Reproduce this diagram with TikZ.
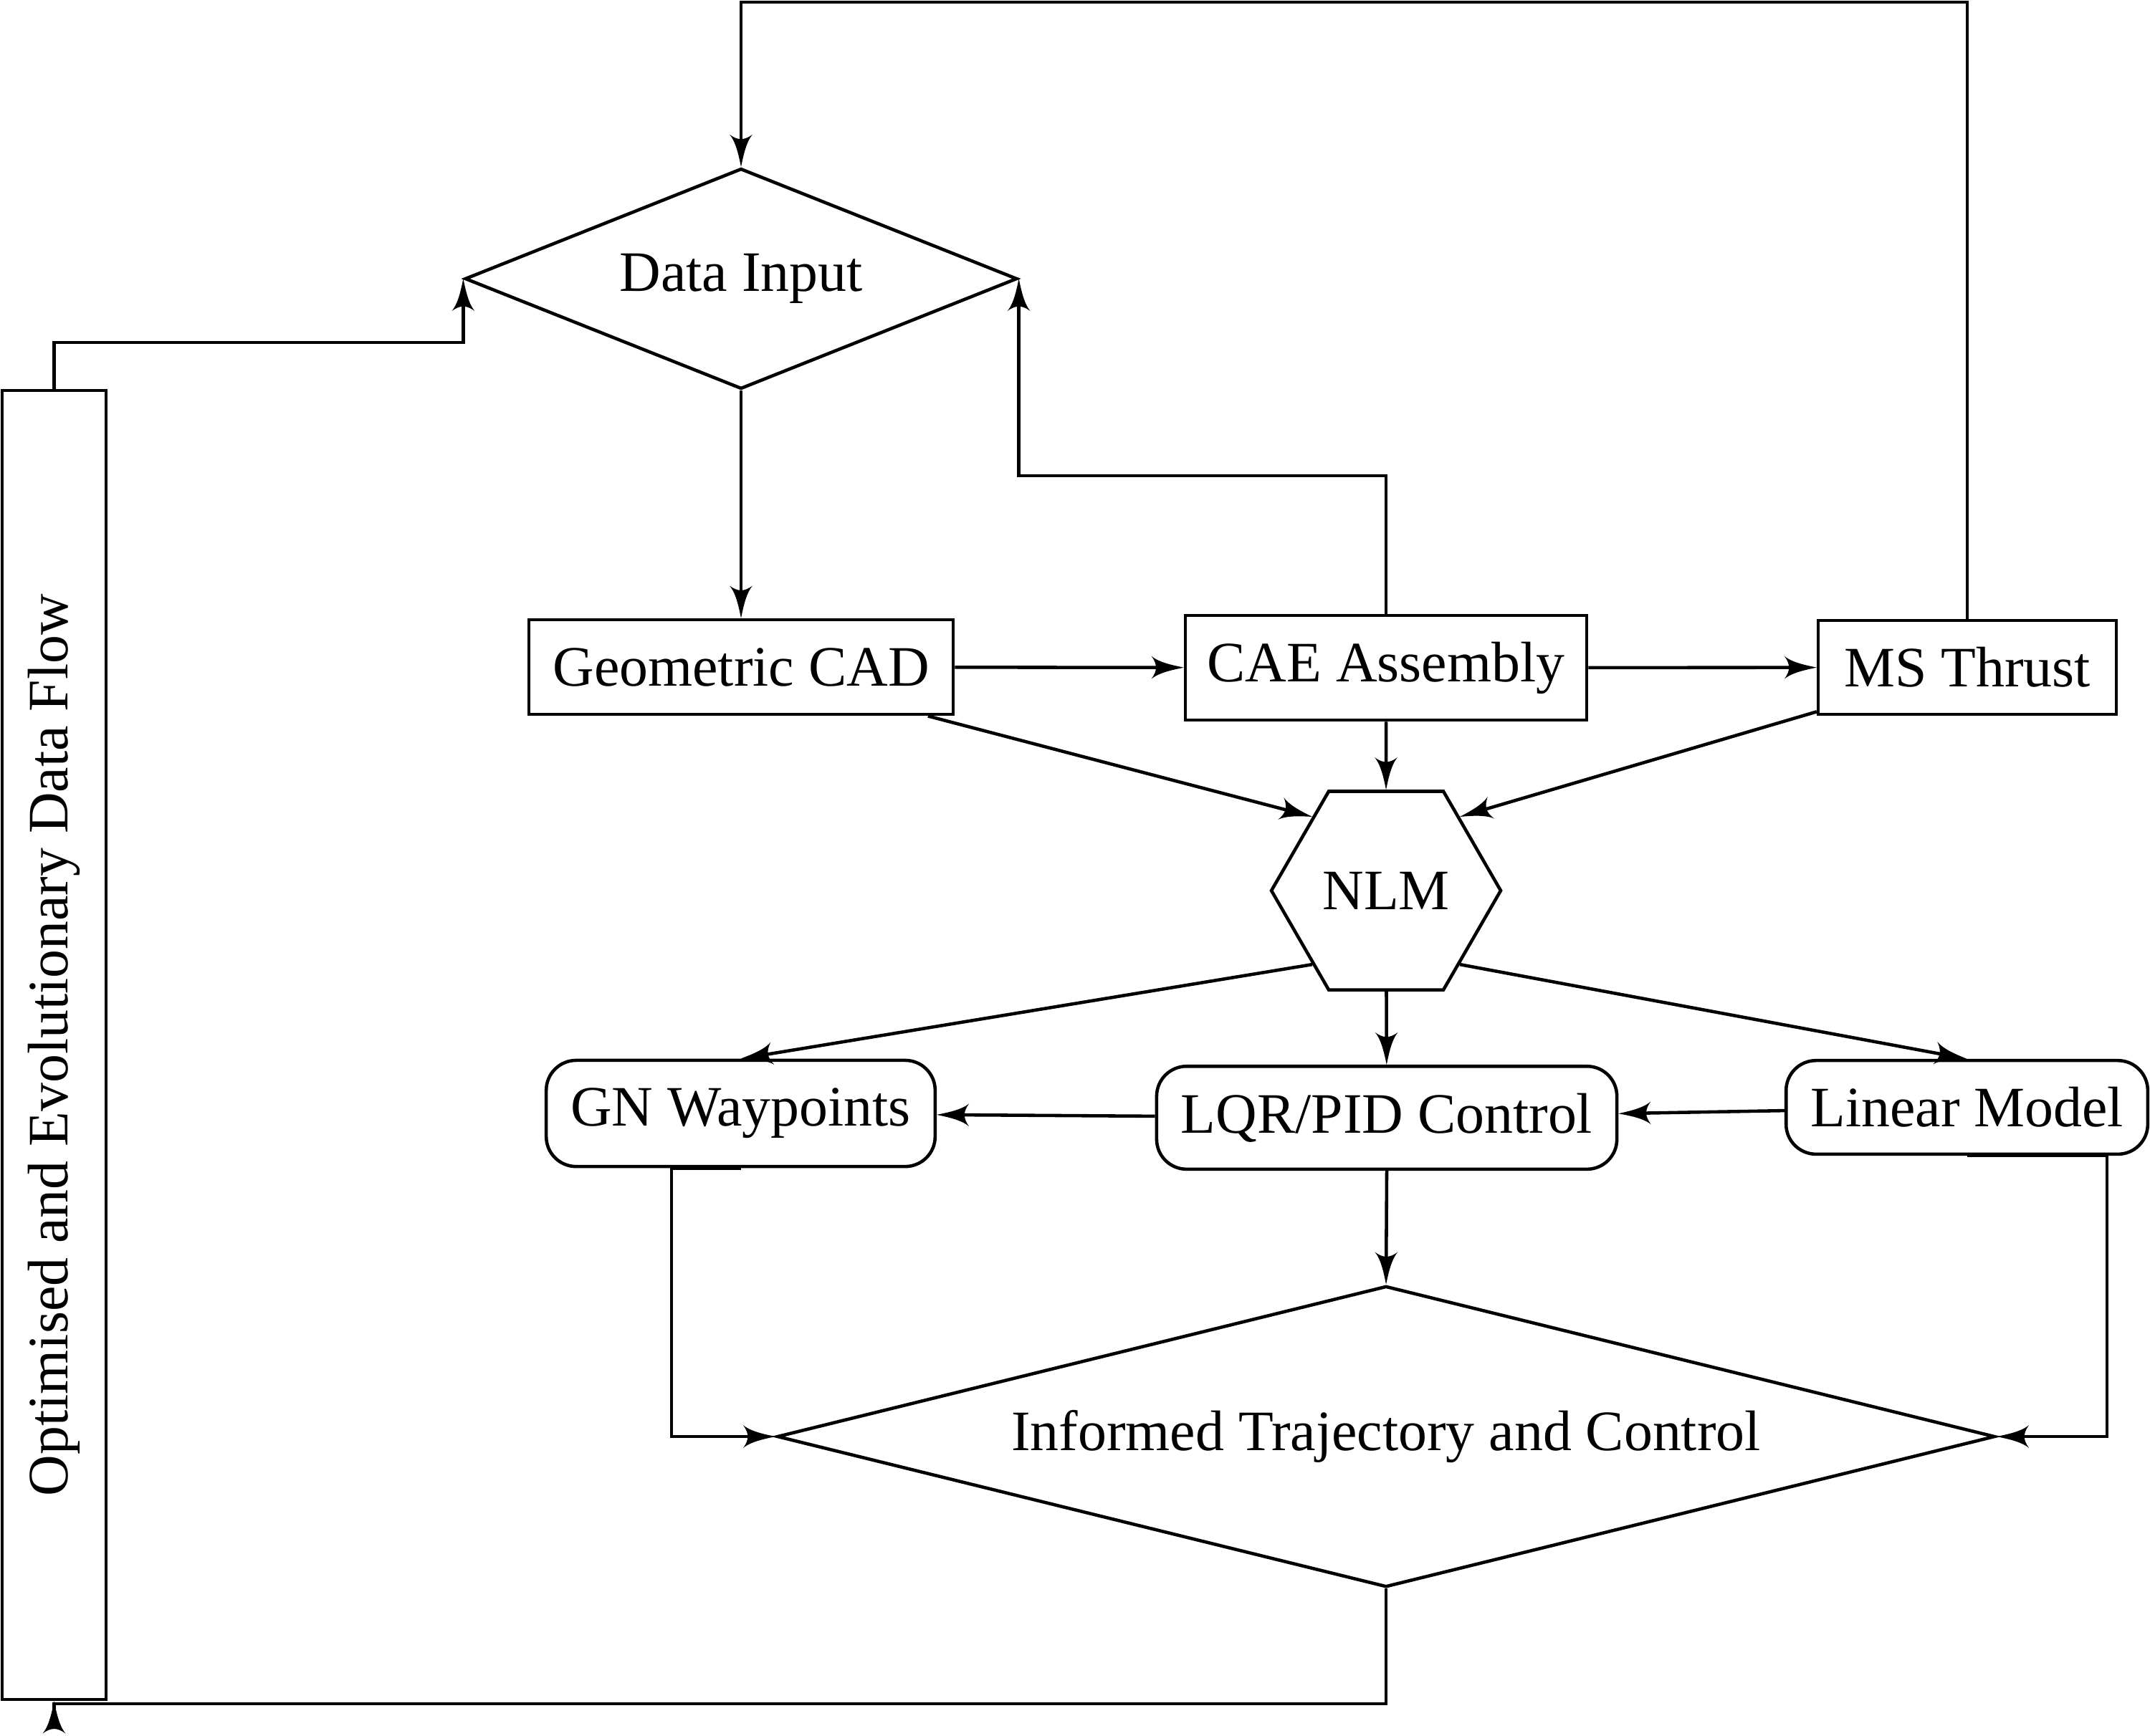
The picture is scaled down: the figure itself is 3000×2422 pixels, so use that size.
\documentclass[tikz,border=0pt]{standalone}
\usepackage{fontspec}
\setmainfont{Liberation Serif}
\usetikzlibrary{shapes.geometric}
\pgfarrowsdeclare{bigstealth}{bigstealth}
{\pgfarrowsleftextend{-2.22pt}\pgfarrowsrightextend{3.7pt}}
{
  \pgfsetdash{}{0pt}
  \pgfsetroundjoin
  \pgfpathmoveto{\pgfqpoint{3.7pt}{0pt}}
  \pgfpathcurveto{\pgfqpoint{2.59pt}{0.26pt}}{\pgfqpoint{-0.74pt}{0.79pt}}{\pgfqpoint{-2.22pt}{2.1pt}}
  \pgfpathcurveto{\pgfqpoint{-1.11pt}{0.53pt}}{\pgfqpoint{-1.11pt}{-0.53pt}}{\pgfqpoint{-2.22pt}{-2.1pt}}
  \pgfpathcurveto{\pgfqpoint{-0.74pt}{-0.79pt}}{\pgfqpoint{2.59pt}{-0.26pt}}{\pgfqpoint{3.7pt}{0pt}}
  \pgfusepathqfill
}
\begin{document}
\begin{tikzpicture}[x=0.131579pt, y=-0.131579pt, line width=0.6pt, >=bigstealth,
  every node/.style={font=\fontsize{10.5pt}{12.5pt}\selectfont},
  box/.style={draw, rectangle, inner sep=2pt},
  rbox/.style={draw, rectangle, rounded corners=5.5pt, inner sep=2pt},
  dia/.style={draw, diamond, inner sep=0pt},
  hexa/.style={draw, regular polygon, regular polygon sides=6, inner sep=0pt}]
\useasboundingbox (0,0) rectangle (3000,2422);

% nodes
\node[dia, aspect=2.5, minimum width=101.4pt, minimum height=40.5pt] (din) at (1034,389) {Data Input};
\node[box, minimum width=77.9pt, minimum height=17.4pt] (geom) at (1034,931) {Geometric CAD};
\node[box, minimum width=73.7pt, minimum height=19.2pt] (cae) at (1934,932) {CAE Assembly};
\node[box, minimum width=54.7pt, minimum height=17.2pt] (ms) at (2745,931.5) {MS Thrust};
\node[hexa, minimum size=42.1pt] (nlm) at (1934,1243) {NLM};
\node[rbox, minimum width=71.4pt, minimum height=19.5pt] (gn) at (1033.5,1554) {GN Waypoints};
\node[rbox, minimum width=84.5pt, minimum height=18.9pt] (lqr) at (1935,1560) {LQR/PID Control};
\node[rbox, minimum width=66.4pt, minimum height=17.2pt] (lin) at (2744.5,1545.5) {Linear Model};
\node[dia, aspect=4.04, minimum width=223.6pt, minimum height=55.3pt] (inf) at (1934,2005) {Informed Trajectory and Control};
\node[box, rotate=90, minimum width=240.4pt, minimum height=19.1pt] (opt) at (75.5,1458.5) {Optimised and Evolutionary Data Flow};

% helper coordinates
\coordinate (ytop) at (0,3);
\coordinate (yleft) at (0,478);
\coordinate (ymid) at (0,664);
\coordinate (xgn) at (937,0);
\coordinate (xlin) at (2940,0);
\coordinate (ybot) at (0,2378);

% connectors
\draw[->] (ms.north) |- (din.north |- ytop) -- (din.north);
\draw[->] (opt.east) |- (din.west |- yleft) -- (din.west);
\draw[->] (cae.north) |- (din.east |- ymid) -- (din.east);
\draw[->] (din.south) -- (geom.north);
\draw[->] (geom) -- (cae);
\draw[->] (cae) -- (ms);
\draw[->] (geom) -- (nlm.135);
\draw[->] (cae) -- (nlm);
\draw[->] (ms) -- (nlm.45);
\draw[->] (nlm.225) -- (gn.north);
\draw[->] (nlm) -- (lqr);
\draw[->] (nlm.315) -- (lin.north);
\draw[->] (lqr) -- (gn);
\draw[->] (lin) -- (lqr);
\draw[->] (gn.south) -- (gn.south -| xgn) |- (inf.west);
\draw[->] (lin.south) -- (lin.south -| xlin) |- (inf.east);
\draw[->] (lqr.south) -- (inf.north);
\draw[->] (inf.south) |- (opt.west |- ybot) -- (opt.west);
\end{tikzpicture}
\end{document}
